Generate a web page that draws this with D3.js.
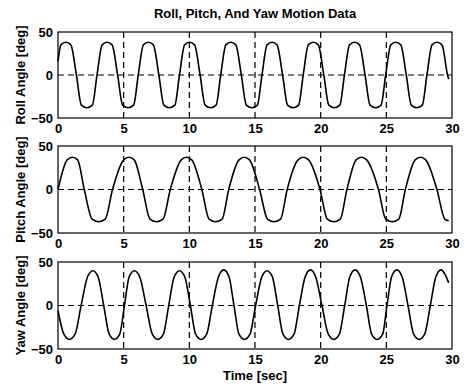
<!DOCTYPE HTML>
<html lang="en">
    <head>
        <meta charset="UTF-8">
        <style>
            body { margin: 0; background: #fff; }
            text { font-family: 'Liberation Sans', Arial, sans-serif; font-weight: bold; fill: #000; }
            .frame { fill: none; stroke: #000; stroke-width: 1.2; }
            .grid { stroke: #000; stroke-width: 1.2; stroke-dasharray: 6,4; }
            .trace { fill: none; stroke: #000; stroke-width: 1.6; stroke-linejoin: round; }
        </style>
    </head>
    <body>
        <script src="https://d3js.org/d3.v7.min.js"></script>
        <script>
            // tick labels
            var timeTicks = [0, 5, 10, 15, 20, 25, 30];
            var angleTicks = [-50, 0, 50];

            // [time (sec), angle (deg)]:
            // zero crossings, shoulders and the tops / bottoms
            var roll = [
                [0, 16], [0.22, 35], [0.6, 38], [0.98, 35], [1.4, 0], [1.78, -35], [2.2, -38], [2.62, -35], [2.97, 0],
                [3.36, 35], [3.74, 38], [4.12, 35], [4.54, 0], [4.92, -35], [5.34, -38], [5.76, -35], [6.11, 0],
                [6.5, 35], [6.88, 38], [7.26, 35], [7.68, 0], [8.06, -35], [8.48, -38], [8.9, -35], [9.25, 0],
                [9.64, 35], [10.02, 38], [10.4, 35], [10.82, 0], [11.2, -35], [11.62, -38], [12.04, -35], [12.39, 0],
                [12.78, 35], [13.16, 38], [13.54, 35], [13.96, 0], [14.34, -35], [14.76, -38], [15.18, -35], [15.53, 0],
                [15.92, 35], [16.3, 38], [16.68, 35], [17.1, 0], [17.48, -35], [17.9, -38], [18.32, -35], [18.67, 0],
                [19.06, 35], [19.44, 38], [19.82, 35], [20.24, 0], [20.62, -35], [21.04, -38], [21.46, -35], [21.81, 0],
                [22.2, 35], [22.58, 38], [22.96, 35], [23.38, 0], [23.76, -35], [24.18, -38], [24.6, -35], [24.95, 0],
                [25.34, 35], [25.72, 38], [26.1, 35], [26.52, 0], [26.9, -35], [27.32, -38], [27.74, -35], [28.09, 0],
                [28.48, 35], [28.86, 38], [29.24, 35], [29.66, 0], [29.75, -5]
            ];

            var pitch = [
                [0, 0], [0.7, 34], [1.1, 37], [1.5, 34], [2.0, 0], [2.6, -34], [3.1, -37], [3.6, -34], [4.15, 0],
                [5.0, 34], [5.4, 37], [5.8, 34], [6.45, 0], [7.0, -34], [7.5, -37], [8.0, -34], [8.55, 0],
                [9.38, 34], [9.78, 37], [10.18, 34], [10.95, 0], [11.5, -34], [12.0, -37], [12.5, -34], [13.0, 0],
                [13.78, 34], [14.18, 37], [14.58, 34], [15.35, 0], [15.95, -34], [16.45, -37], [16.95, -34], [17.45, 0],
                [18.28, 34], [18.68, 37], [19.08, 34], [19.95, 0], [20.5, -34], [21.0, -37], [21.5, -34], [22.0, 0],
                [22.7, 34], [23.1, 37], [23.5, 34], [24.4, 0], [24.95, -34], [25.45, -37], [25.95, -34], [26.45, 0],
                [27.2, 34], [27.6, 37], [28.0, 34], [28.85, 0], [29.45, -34], [29.75, -36]
            ];

            var yaw = [
                [0, -6], [0.45, -33], [0.87, -39], [1.3, -33], [1.76, 0], [2.25, 33], [2.65, 40], [3.05, 33], [3.48, 0],
                [3.9, -33], [4.3, -39], [4.7, -33], [5.06, 0], [5.42, 33], [5.82, 40], [6.22, 33], [6.71, 0],
                [7.18, -33], [7.6, -39], [8.02, -33], [8.43, 0], [8.85, 33], [9.25, 40], [9.65, 33], [10.08, 0],
                [10.48, -33], [10.9, -39], [11.32, -33], [11.75, 0], [12.22, 33], [12.62, 41], [13.02, 33], [13.4, 0],
                [13.78, -33], [14.2, -39], [14.62, -33], [15.05, 0], [15.52, 33], [15.92, 40], [16.32, 33], [16.73, 0],
                [17.13, -33], [17.55, -39], [17.97, -33], [18.38, 0], [18.82, 33], [19.22, 41], [19.62, 33], [20.1, 0],
                [20.58, -33], [21.0, -39], [21.42, -33], [21.83, 0], [22.22, 33], [22.62, 41], [23.02, 33], [23.48, 0],
                [23.88, -33], [24.3, -39], [24.72, -33], [25.05, 0], [25.4, 33], [25.8, 41], [26.2, 33], [26.65, 0],
                [27.08, -33], [27.5, -39], [27.92, -33], [28.35, 0], [28.77, 33], [29.17, 41], [29.5, 35], [29.75, 26]
            ];

            var panels = [
                { label: 'Roll Angle [deg]', data: roll, top: 32, bottom: 118 },
                { label: 'Pitch Angle [deg]', data: pitch, top: 146, bottom: 233 },
                { label: 'Yaw Angle [deg]', data: yaw, top: 262, bottom: 349 }
            ];

            var left = 58, right = 452;

            var svg = d3.select('body').append('svg').attr('width', 467).attr('height', 386);

            var x = d3.scaleLinear().domain([0, 30]).range([left, right]);

            svg.append('text')
                .attr('x', (left + right) / 2)
                .attr('y', 18)
                .attr('text-anchor', 'middle')
                .style('font-size', '13px')
                .text('Roll, Pitch, And Yaw Motion Data');

            panels.forEach(function(p) {
                var y = d3.scaleLinear().domain([-50, 50]).range([p.bottom, p.top]);
                var g = svg.append('g');

                // dashed grid
                g.selectAll('.vgrid')
                    .data(timeTicks.slice(1, -1)).enter()
                    .append('line')
                        .attr('class', 'grid')
                        .attr('x1', x).attr('x2', x)
                        .attr('y1', p.top).attr('y2', p.bottom);
                g.append('line')
                    .attr('class', 'grid')
                    .attr('x1', left).attr('x2', right)
                    .attr('y1', y(0)).attr('y2', y(0));

                var line = d3.line()
                    .x(function(d) { return x(d[0]); })
                    .y(function(d) { return y(d[1]); })
                    .curve(d3.curveMonotoneX);

                g.append('path')
                    .attr('class', 'trace')
                    .attr('d', line(p.data));

                g.append('rect')
                    .attr('class', 'frame')
                    .attr('x', left).attr('y', p.top)
                    .attr('width', right - left).attr('height', p.bottom - p.top);

                // axes only for the labels
                var xa = g.append('g')
                    .attr('transform', 'translate(0,' + p.bottom + ')')
                    .call(d3.axisBottom(x).tickValues(timeTicks).tickSize(0).tickPadding(6));
                var ya = g.append('g')
                    .attr('transform', 'translate(' + left + ',0)')
                    .call(d3.axisLeft(y).tickValues(angleTicks).tickSize(0).tickPadding(5));
                [xa, ya].forEach(function(a) {
                    a.attr('font-family', null).attr('font-size', null);
                    a.select('.domain').remove();
                    a.selectAll('text').style('font-size', '13px');
                });

                g.append('text')
                    .attr('transform', 'translate(20,' + (p.top + p.bottom) / 2 + ') rotate(-90)')
                    .attr('text-anchor', 'middle')
                    .attr('dy', '0.35em')
                    .style('font-size', '13px')
                    .text(p.label);
            });

            svg.append('text')
                .attr('x', (left + right) / 2)
                .attr('y', 380)
                .attr('text-anchor', 'middle')
                .style('font-size', '13px')
                .text('Time [sec]');
        </script>
    </body>
</html>
